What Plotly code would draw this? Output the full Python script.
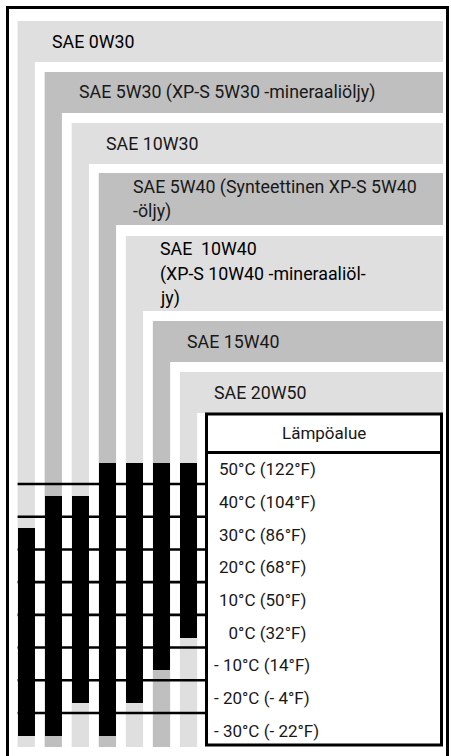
import plotly.graph_objects as go

# --- data -------------------------------------------------------------
oil_lines = [
    ["SAE 0W30"],
    ["SAE 5W30 (XP-S 5W30 -mineraaliöljy)"],
    ["SAE 10W30"],
    ["SAE 5W40 (Synteettinen XP-S 5W40", "-öljy)"],
    ["SAE \u00a010W40", "(XP-S 10W40 -mineraaliöl-", "jy)"],
    ["SAE 15W40"],
    ["SAE 20W50"],
]
temp_low = [-30, -30, -20, -30, -20, -10, 0]
temp_high = [30, 40, 40, 50, 50, 50, 50]

row_temps = [50, 40, 30, 20, 10, 0, -10, -20, -30]
row_labels = ["50°C (122°F)", "40°C (104°F)", "30°C (86°F)", "20°C (68°F)",
              "10°C (50°F)", "\u20070°C (32°F)", "- 10°C (14°F)",
              "- 20°C (- 4°F)", "- 30°C (- 22°F)"]
table_title = "Lämpöalue"

# --- layout constants (pixels) ---------------------------------------
W, H = 451, 756
PX_PER_DEG = 3.27
Y50 = 467.7                      # pixel row of 50 °C
band_top = [21, 72, 123, 173, 236, 321, 372]
band_bot = [62, 113, 164, 225, 311, 362, 413]
band_col = ["#dfdfdf", "#bfbfbf", "#dfdfdf", "#bfbfbf", "#dfdfdf", "#bfbfbf", "#dfdfdf"]
strip_x0, strip_pitch, strip_w = 17.6, 27.05, 17.3
band_right, strip_bottom = 443, 747
TBL_L, TBL_R, TBL_T, TBL_B, TBL_HDR = 206.5, 441.5, 414, 745, 452.5
PAD_HI, PAD_LO = 1.5, 2.0       # bar overhang in °C

FONT = "Roboto"


def px(x):
    return x / W


def py(y):
    return 1 - y / H


t_max = 50 + Y50 / PX_PER_DEG
t_min = 50 - (H - Y50) / PX_PER_DEG

fig = go.Figure()
shapes = []
annotations = []

# L-shaped grey bands
for i in range(len(oil_lines)):
    x0 = strip_x0 + strip_pitch * i
    shapes.append(dict(type="rect", xref="paper", yref="paper", layer="below",
                       x0=px(x0), x1=px(band_right), y0=py(band_bot[i]), y1=py(band_top[i]),
                       fillcolor=band_col[i], line_width=0))
    shapes.append(dict(type="rect", xref="paper", yref="paper", layer="below",
                       x0=px(x0), x1=px(x0 + strip_w), y0=py(strip_bottom), y1=py(band_bot[i]),
                       fillcolor=band_col[i], line_width=0))
    lines = oil_lines[i]
    pitch = 24.5
    mid = (band_top[i] + band_bot[i]) / 2
    strong = i in (0, 4)
    for k, txt in enumerate(lines):
        yc = mid + (k - (len(lines) - 1) / 2) * pitch
        annotations.append(dict(xref="paper", yref="paper", x=px(x0 + 32), y=py(yc),
                                text=txt, showarrow=False, xanchor="left", yanchor="middle",
                                font=dict(family=FONT, size=17.8,
                                          color="#000000" if strong else "#181818")))

# temperature ranges per oil
centers = [strip_x0 + strip_pitch * i + strip_w / 2 for i in range(len(oil_lines))]
fig.add_trace(go.Bar(
    x=centers,
    base=[lo - PAD_LO for lo in temp_low],
    y=[hi - lo + PAD_HI + PAD_LO for lo, hi in zip(temp_low, temp_high)],
    width=strip_w, marker=dict(color="black", line_width=0),
    hoverinfo="skip", showlegend=False,
))

# boundaries between temperature rows
for a, b in zip(row_temps[:-1], row_temps[1:]):
    t = (a + b) / 2
    shapes.append(dict(type="line", xref="x", yref="y", x0=strip_x0, x1=TBL_L,
                       y0=t, y1=t, line=dict(color="black", width=2.6)))

# table of temperatures
shapes.append(dict(type="rect", xref="paper", yref="paper",
                   x0=px(TBL_L), x1=px(TBL_R), y0=py(TBL_B), y1=py(TBL_T),
                   fillcolor="white", line=dict(color="black", width=3)))
shapes.append(dict(type="line", xref="paper", yref="paper",
                   x0=px(TBL_L), x1=px(TBL_R), y0=py(TBL_HDR), y1=py(TBL_HDR),
                   line=dict(color="black", width=3)))
annotations.append(dict(xref="paper", yref="paper", x=px((TBL_L + TBL_R) / 2),
                        y=py((TBL_T + TBL_HDR) / 2), text=table_title, showarrow=False,
                        xanchor="center", yanchor="middle",
                        font=dict(family=FONT, size=17, color="#181818")))
for t, lab in zip(row_temps, row_labels):
    x_lab = 212 if lab.startswith("-") else 217
    annotations.append(dict(xref="x", yref="y", x=x_lab, y=t, text=lab, showarrow=False,
                            xanchor="left", yanchor="middle", yshift=-1.5,
                            font=dict(family=FONT, size=17, color="#181818")))

# outer frame, open at the bottom
for x0, y0, x1, y1 in [(7.5, 7.5, 7.5, H + 5), (6, 7.5, 449, 7.5), (447.5, 7.5, 447.5, H + 5)]:
    shapes.append(dict(type="line", xref="paper", yref="paper",
                       x0=px(x0), y0=py(y0), x1=px(x1), y1=py(y1),
                       line=dict(color="black", width=3)))

fig.update_layout(
    width=W, height=H, margin=dict(l=0, r=0, t=0, b=0),
    paper_bgcolor="white", plot_bgcolor="white",
    xaxis=dict(range=[0, W], visible=False, fixedrange=True),
    yaxis=dict(range=[t_min, t_max], visible=False, fixedrange=True),
    shapes=shapes, annotations=annotations, bargap=0, showlegend=False,
)

fig.write_html("out.html")
